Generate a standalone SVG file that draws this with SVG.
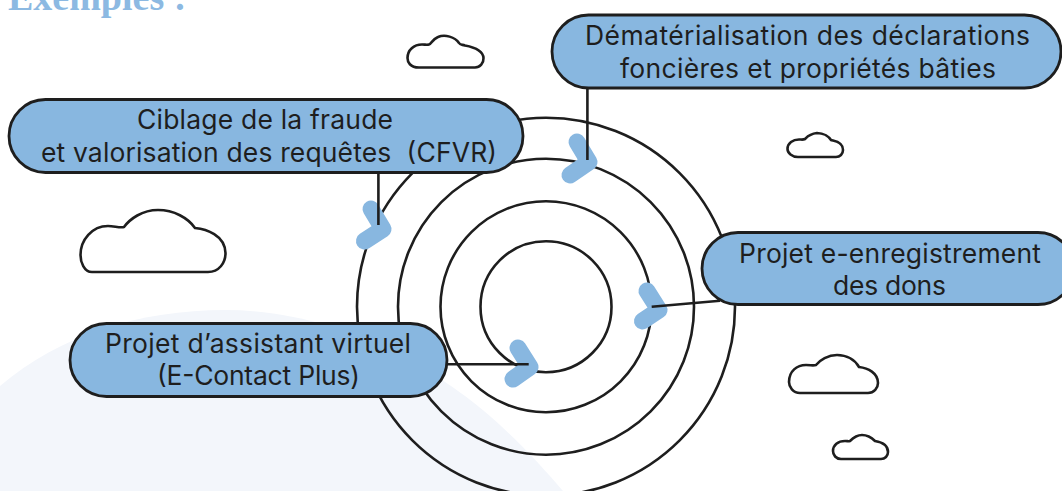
<svg xmlns="http://www.w3.org/2000/svg" width="1062" height="491" viewBox="0 0 1062 491">
<style>
.ring{fill:none;stroke:#1e1e1e;stroke-width:2.6}
.pill{fill:#88b7e0;stroke:#1e1e1e;stroke-width:2.8}
.cloud{fill:#fff;stroke:#1e1e1e;stroke-width:2.6;stroke-linejoin:round}
.chev{fill:none;stroke:#88b7e0;stroke-width:17;stroke-linecap:round;stroke-linejoin:round}
.link{fill:none;stroke:#1e1e1e;stroke-width:2.6}
.t{font-family:"Inter","Open Sans",sans-serif;font-size:26.5px;fill:#1e1e1e;white-space:pre}
.title{font-family:"Liberation Serif",serif;font-weight:bold;font-size:38px;fill:#8cb9e2}
</style>
<rect width="1062" height="491" fill="#fff"/>
<path d="M0 386C60 335 140 310 225 310C340 310 440 370 500 425C525 448 545 470 563 491L0 491Z" fill="#f3f6fb"/>
<text class="title" x="8" y="10">Exemples :</text>
<g id="rings">
<circle class="ring" cx="546" cy="306.7" r="189"/>
<circle class="ring" cx="546" cy="306.7" r="148"/>
<circle class="ring" cx="546" cy="306.7" r="105.5"/>
<circle class="ring" cx="546" cy="306.7" r="65.5"/>
</g>
<g id="clouds">
<path id="cloud1" class="cloud" d="M419 67.500C410 67.500 407.500 62 407.500 58C407.500 50 414 44.500 422 44.500C425 44.500 427 45 429 44.500C431 44 433 39 438 37C445 34 455 37 459 43C460 45 462 44.500 465 45.500C473 47 483 50 483.500 58C483.800 63 480 67.500 475 67.500Z"/>
<path id="cloud2" class="cloud" d="M798 157C792 157 787.500 153 787.500 149C787.500 143 793 139.500 799 139.500C802 139.500 803 140 805 139C807 137 809 134 817 133C824 133 829 137 831 140C833 141 843 141 843 150C843 154 840 157 836 157Z"/>
<path id="cloud3" class="cloud" d="M92 272C84 272 80.500 262 80.500 255C80.500 240 92 226 108 226C114 226 120 228 124 227C130 219 142 210 158 210C174 210 188 218 195 228C206 229 225 235 225.500 253C225.500 263 219 272 208 272Z"/>
<path id="cloud4" class="cloud" d="M800 393C793 393 789 387 789 382C789 371 797 365 806 365C811 365 813 366 816 365C820 360 828 355 837 355C847 355 855 360 859 367C868 368 878 373 878 383C878 388 874 393 868 393Z"/>
<path id="cloud5" class="cloud" d="M841 459C836 459 833 455 833 451C833 445 838 441 845 441C848 441 848 441.500 850 441C852 439 856 435 862 435C868 435 872 438 875 441C881 442 888 445 888 452C888 456 885 459 881 459Z"/>
</g>
<g id="connectors">
<path class="chev" d="M577 142L589 162L570 175"/>
<path class="chev" d="M371 209L383 229L364.500 241"/>
<path class="chev" d="M647 291L659 310L642.500 321"/>
<path class="chev" d="M518 348L530 367L513 379"/>
<path class="link" d="M587.400 88V160"/>
<path class="link" d="M378.400 172V225"/>
<path class="link" d="M651.700 306.700L720 300.700"/>
<path class="link" d="M446 364.300H528.700"/>
</g>
<g id="node-dematerialisation">
<rect class="pill" x="552" y="15" width="509" height="73" rx="36.500"/>
<text class="t" x="585" y="45" textLength="445">Dématérialisation des déclarations</text>
<text class="t" x="620" y="78" textLength="376">foncières et propriétés bâties</text>
</g>
<g id="node-cfvr">
<rect class="pill" x="9" y="99.500" width="514" height="73" rx="36.500"/>
<text class="t" x="137" y="129" textLength="256">Ciblage de la fraude</text>
<text class="t" x="41" y="161.500" textLength="456">et valorisation des requêtes  (CFVR)</text>
</g>
<g id="node-enregistrement">
<rect class="pill" x="702" y="232.500" width="372" height="72" rx="36"/>
<text class="t" x="739" y="263" textLength="302">Projet e-enregistrement</text>
<text class="t" x="833" y="295" textLength="113">des dons</text>
</g>
<g id="node-assistant">
<rect class="pill" x="70" y="323.500" width="377" height="73" rx="36.500"/>
<text class="t" x="105" y="353" textLength="306">Projet d’assistant virtuel</text>
<text class="t" x="157" y="385" textLength="203">(E-Contact Plus)</text>
</g>
</svg>
